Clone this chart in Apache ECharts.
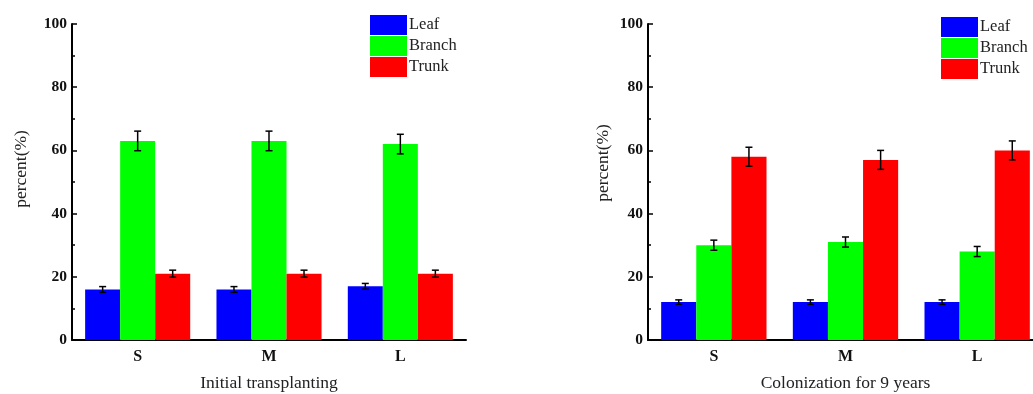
<!DOCTYPE html>
<html>
<head>
<meta charset="utf-8">
<script src="https://cdn.jsdelivr.net/npm/echarts@6/dist/echarts.min.js"></script>
<style>html,body{margin:0;padding:0;background:#fff}#c{width:1033px;height:394px}</style>
</head>
<body>
<div id="c"></div>
<script>
const categories = ['S', 'M', 'L'];
const seriesNames = ['Leaf', 'Branch', 'Trunk'];
const yTicks = [0, 20, 40, 60, 80, 100];
// Initial transplanting
const leftLeaf = [16, 16, 17];
const leftBranch = [63, 63, 62];
const leftTrunk = [21, 21, 21];
const leftLeafErr = [0.9, 0.9, 0.9];
const leftBranchErr = [3.1, 3.1, 3.1];
const leftTrunkErr = [1.1, 1.1, 1.1];
// Colonization for 9 years
const rightLeaf = [12, 12, 12];
const rightBranch = [30, 31, 28];
const rightTrunk = [58, 57, 60];
const rightLeafErr = [0.7, 0.7, 0.7];
const rightBranchErr = [1.6, 1.6, 1.6];
const rightTrunkErr = [3.0, 3.0, 3.0];
const colors = ['#0000FF', '#00FF00', '#FF0000'];
const xTitles = ['Initial transplanting', 'Colonization for 9 years'];
const yTitle = 'percent(%)';

const FONT = '"Liberation Serif","Times New Roman",serif';
const chart = echarts.init(document.getElementById('c'));

const grids = [
  {left: 72, top: 24, width: 394, height: 316, outerBoundsMode: 'none', containLabel: false},
  {left: 648, top: 24, width: 395, height: 316, outerBoundsMode: 'none', containLabel: false}
];
const yNameGaps = [42, 36];
const yNameShift = [26, 38];

function errSeries(gi, si, vals, errs) {
  return {
    type: 'custom', xAxisIndex: gi * 2, yAxisIndex: gi, silent: true, z: 5,
    data: vals.map((v, i) => [i, v - errs[i], v + errs[i]]),
    renderItem: function (params, api) {
      const band = api.size([1, 0])[0];
      const bw = band * 0.8 / 3;
      const off = (si - 1) * bw;
      const lo = api.coord([api.value(0), api.value(1)]);
      const hi = api.coord([api.value(0), api.value(2)]);
      const x = lo[0] + off;
      const cap = 3.5;
      const st = {stroke: '#000', lineWidth: 1.5};
      return {type: 'group', children: [
        {type: 'line', shape: {x1: x, y1: lo[1], x2: x, y2: hi[1]}, style: st},
        {type: 'line', shape: {x1: x - cap, y1: lo[1], x2: x + cap, y2: lo[1]}, style: st},
        {type: 'line', shape: {x1: x - cap, y1: hi[1], x2: x + cap, y2: hi[1]}, style: st}
      ]};
    }
  };
}

const xAxes = [], yAxes = [], series = [];
[0, 1].forEach(gi => {
  xAxes.push({
    type: 'category', gridIndex: gi, data: categories,
    name: xTitles[gi], nameLocation: 'middle', nameGap: 34,
    nameTextStyle: {fontFamily: FONT, fontSize: 17.5, color: '#222'},
    axisLine: {lineStyle: {color: '#000', width: 2}},
    axisTick: {alignWithLabel: true, inside: true, length: 5, lineStyle: {color: '#000', width: 1.5}},
    axisLabel: {fontFamily: FONT, fontSize: 16, fontWeight: 'bold', color: '#111', margin: 9},
    splitLine: {show: false}
  });
  xAxes.push({
    type: 'category', gridIndex: gi, data: categories, position: 'bottom',
    axisLine: {show: false},
    axisTick: {alignWithLabel: false, inside: true, length: 3, lineStyle: {color: '#000', width: 1.5}},
    axisLabel: {show: false}, splitLine: {show: false}
  });
  yAxes.push({
    type: 'value', gridIndex: gi, min: 0, max: 100, interval: 20,
    name: yTitle, nameLocation: 'middle', nameGap: yNameGaps[gi],
    nameTextStyle: {fontFamily: FONT, fontSize: 17.5, color: '#222', padding: [0, 0, 0, yNameShift[gi]]},
    axisLine: {show: true, lineStyle: {color: '#000', width: 2}},
    axisTick: {show: true, inside: true, length: 5, lineStyle: {color: '#000', width: 1.5}},
    minorTick: {show: true, splitNumber: 2, length: 3, lineStyle: {color: '#000', width: 1.5}},
    axisLabel: {fontFamily: FONT, fontSize: 15.5, fontWeight: 'bold', color: '#111', margin: 5,
      formatter: v => yTicks.includes(v) ? String(v) : ''},
    splitLine: {show: false}
  });
});

const leftVals = [leftLeaf, leftBranch, leftTrunk];
const leftErrs = [leftLeafErr, leftBranchErr, leftTrunkErr];
const rightVals = [rightLeaf, rightBranch, rightTrunk];
const rightErrs = [rightLeafErr, rightBranchErr, rightTrunkErr];

[[leftVals, leftErrs], [rightVals, rightErrs]].forEach(([vals, errs], gi) => {
  vals.forEach((v, si) => {
    series.push({
      type: 'bar', name: seriesNames[si], xAxisIndex: gi * 2, yAxisIndex: gi,
      data: v, barGap: '0%', barCategoryGap: '20%',
      itemStyle: {color: colors[si]}
    });
  });
  vals.forEach((v, si) => series.push(errSeries(gi, si, v, errs[si])));
});

const legendBase = {
  orient: 'vertical', icon: 'rect', itemWidth: 37, itemHeight: 20, itemGap: 1,
  data: seriesNames, selectedMode: false,
  textStyle: {fontFamily: FONT, fontSize: 16.5, color: '#222', padding: [0, 0, 0, -3]}
};

chart.setOption({
  animation: false,
  color: colors,
  grid: grids,
  xAxis: xAxes,
  yAxis: yAxes,
  legend: [
    Object.assign({left: 365, top: 10}, legendBase),
    Object.assign({left: 936, top: 12}, legendBase)
  ],
  series: series
});
</script>
</body>
</html>
